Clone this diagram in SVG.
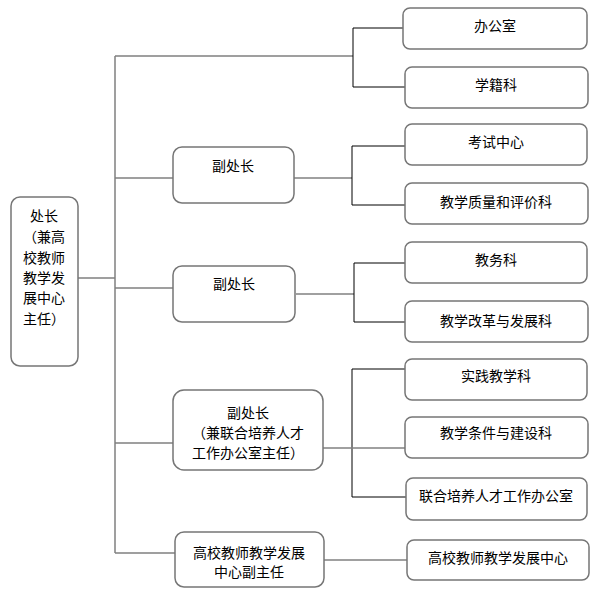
<svg xmlns="http://www.w3.org/2000/svg" width="598" height="610" viewBox="0 0 598 610">
<style>
.box{fill:#fff;stroke:#767676;stroke-width:1.5}
.t{font-family:"Noto Sans CJK SC","Liberation Sans",sans-serif;font-size:14px;fill:#000;text-anchor:middle;dominant-baseline:central}
.g{fill:none;stroke:#808080;stroke-width:1.5}
.k{fill:none;stroke:#000;stroke-width:1}
</style>
<rect width="598" height="610" fill="#fff"/>
<g id="connectors">
<path class="g" d="M78 278H115M115 56V553M115 56H353"/>
<path class="g" d="M115 178H173M115 288H173M115 443H173M115 553H175"/>
<path class="k" d="M403 28H353V87H405"/>
<path class="g" d="M294 178H352"/>
<path class="k" d="M405 146H352V205H405"/>
<path class="g" d="M296 294H354"/>
<path class="k" d="M405 263H354V322H405"/>
<path class="k" d="M405 369H352V497H406"/>
<path class="g" d="M323 448H405"/>
<path class="g" d="M324 560H407"/>
</g>
<g id="root"><rect class="box" x="11" y="197" width="67" height="169" rx="9"/>
<text class="t" x="44" y="215">处长</text><text class="t" x="44" y="236">（兼高</text><text class="t" x="44" y="257">校教师</text><text class="t" x="44" y="277">教学发</text><text class="t" x="44" y="297">展中心</text><text class="t" x="44" y="318">主任）</text></g>
<g id="vp1"><rect class="box" x="173" y="147" width="121" height="56" rx="9"/><text class="t" x="233" y="165">副处长</text></g>
<g id="vp2"><rect class="box" x="173" y="266" width="122" height="56" rx="9"/><text class="t" x="234" y="283">副处长</text></g>
<g id="vp3"><rect class="box" x="173" y="390" width="150" height="80" rx="11"/><text class="t" x="248" y="412">副处长</text><text class="t" x="248" y="432">（兼联合培养人才</text><text class="t" x="248" y="452">工作办公室主任）</text></g>
<g id="vp4"><rect class="box" x="175" y="532" width="149" height="55" rx="9"/><text class="t" x="249" y="552">高校教师教学发展</text><text class="t" x="249" y="571">中心副主任</text></g>
<g id="n1"><rect class="box" x="403" y="8" width="184" height="41" rx="7"/><text class="t" x="495" y="25">办公室</text></g>
<g id="n2"><rect class="box" x="405" y="67" width="183" height="41" rx="7"/><text class="t" x="496" y="84">学籍科</text></g>
<g id="n3"><rect class="box" x="405" y="124" width="182" height="41" rx="7"/><text class="t" x="496" y="141">考试中心</text></g>
<g id="n4"><rect class="box" x="405" y="183" width="183" height="41" rx="7"/><text class="t" x="496" y="201">教学质量和评价科</text></g>
<g id="n5"><rect class="box" x="405" y="242" width="182" height="41" rx="7"/><text class="t" x="496" y="259">教务科</text></g>
<g id="n6"><rect class="box" x="405" y="301" width="183" height="41" rx="7"/><text class="t" x="496" y="320">教学改革与发展科</text></g>
<g id="n7"><rect class="box" x="405" y="359" width="182" height="41" rx="7"/><text class="t" x="496" y="375">实践教学科</text></g>
<g id="n8"><rect class="box" x="405" y="417" width="183" height="41" rx="7"/><text class="t" x="496" y="432">教学条件与建设科</text></g>
<g id="n9"><rect class="box" x="406" y="478" width="181" height="42" rx="7"/><text class="t" x="496" y="495">联合培养人才工作办公室</text></g>
<g id="n10"><rect class="box" x="407" y="540" width="182" height="40" rx="7"/><text class="t" x="498" y="557">高校教师教学发展中心</text></g>
</svg>
